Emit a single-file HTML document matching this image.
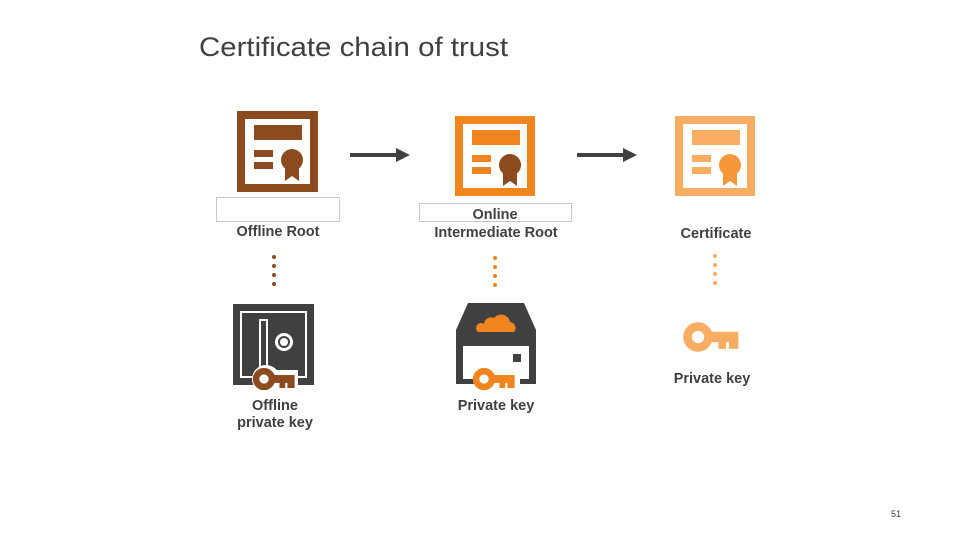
<!DOCTYPE html>
<html><head><meta charset="utf-8"><style>
body{margin:0;background:#fff;}
svg{display:block;}
text{font-family:"Liberation Sans",sans-serif;font-weight:bold;fill:#404040;}
</style></head><body>
<svg width="960" height="540" viewBox="0 0 960 540" xmlns="http://www.w3.org/2000/svg">
<defs>
<g id="certbody">
  <rect x="17" y="14" width="48" height="15"/>
  <rect x="17" y="39" width="19" height="7"/>
  <rect x="17" y="51" width="19" height="7"/>
</g>
<g id="seal">
  <circle cx="55" cy="49" r="11"/>
  <polygon points="48,55 62,55 62,70 55,65 48,70"/>
</g>
<g id="key">
  <circle cx="0" cy="0" r="11" fill="none" stroke-width="9"/>
  <rect x="10" y="-5" width="32" height="10"/>
  <rect x="22" y="0" width="7" height="12"/>
  <rect x="33" y="0" width="9" height="12"/>
</g>
</defs>

<text x="199" y="56" font-size="27" textLength="309" lengthAdjust="spacingAndGlyphs" style="font-weight:normal" fill="#484848">Certificate chain of trust</text>

<g transform="translate(237,111)">
  <rect x="4" y="4" width="73" height="73" fill="none" stroke="#8c4a1f" stroke-width="8"/>
  <use href="#certbody" fill="#8c4a1f"/>
  <use href="#seal" fill="#8c4a1f"/>
</g>
<g transform="translate(455,116)">
  <rect x="4" y="4" width="72" height="72" fill="none" stroke="#f0841f" stroke-width="8"/>
  <use href="#certbody" fill="#f0841f"/>
  <use href="#seal" fill="#8c4a1f"/>
</g>
<g transform="translate(675,116)">
  <rect x="4" y="4" width="72" height="72" fill="none" stroke="#f8ad62" stroke-width="8"/>
  <use href="#certbody" fill="#f8ad62"/>
  <use href="#seal" fill="#f7973a"/>
</g>

<line x1="350" y1="155" x2="398" y2="155" stroke="#404040" stroke-width="4"/>
<polygon points="396,148 410,155 396,162" fill="#404040"/>
<line x1="577" y1="155" x2="625" y2="155" stroke="#404040" stroke-width="4"/>
<polygon points="623,148 637,155 623,162" fill="#404040"/>

<rect x="216.5" y="197.5" width="123" height="24" fill="#fff" stroke="#c8c8c8"/>
<rect x="419.5" y="203.5" width="152" height="18" fill="#fff" stroke="#c8c8c8"/>
<rect x="470" y="204" width="52" height="17" fill="#fff"/>

<text x="278" y="236" font-size="14.5" text-anchor="middle">Offline Root</text>
<text x="495" y="219" font-size="14.5" text-anchor="middle">Online</text>
<text x="496" y="237" font-size="14.5" text-anchor="middle">Intermediate Root</text>
<text x="716" y="238" font-size="14.5" text-anchor="middle">Certificate</text>

<g fill="#8c4a1f"><circle cx="274" cy="257" r="2"/><circle cx="274" cy="266" r="2"/><circle cx="274" cy="275" r="2"/><circle cx="274" cy="284" r="2"/></g>
<g fill="#f0841f"><circle cx="495" cy="258" r="2"/><circle cx="495" cy="267" r="2"/><circle cx="495" cy="276" r="2"/><circle cx="495" cy="285" r="2"/></g>
<g fill="#f8ad62"><circle cx="715" cy="256" r="2"/><circle cx="715" cy="265" r="2"/><circle cx="715" cy="274" r="2"/><circle cx="715" cy="283" r="2"/></g>

<g>
  <rect x="233" y="304" width="81" height="81" fill="#404040"/>
  <rect x="241" y="312" width="65" height="65" fill="none" stroke="#fff" stroke-width="2"/>
  <rect x="246" y="317" width="55" height="55" fill="#404040"/>
  <rect x="260" y="320" width="7" height="52" fill="none" stroke="#fff" stroke-width="2"/>
  <circle cx="284" cy="342" r="9" fill="#fff"/>
  <circle cx="284" cy="342" r="6" fill="#404040"/>
  <circle cx="284" cy="342" r="4" fill="#fff"/>
  <circle cx="266" cy="379" r="14" fill="#fff"/>
  <rect x="270" y="370" width="28" height="18" fill="#fff"/>
  <g transform="translate(264,379) scale(0.72)" fill="#8c4a1f" stroke="#8c4a1f"><use href="#key"/></g>
</g>

<g>
  <polygon points="468,303 524,303 536,330 536,384 456,384 456,330" fill="#404040"/>
  <rect x="463" y="346" width="66" height="33" fill="#fff"/>
  <rect x="513" y="354" width="8" height="8" fill="#404040"/>
  <path d="M478,332 h36 a6,6 0 0 0 -4,-10 a9,9 0 0 0 -16,-4 a7,7 0 0 0 -10,6 a5,5 0 0 0 -6,8z" fill="#f0841f"/>
  <circle cx="486" cy="379" r="13" fill="#fff"/>
  <rect x="490" y="370" width="30" height="16" fill="#fff"/>
  <g transform="translate(484,379) scale(0.72)" fill="#f0841f" stroke="#f0841f"><use href="#key"/></g>
</g>

<g transform="translate(698,337) scale(0.95)" fill="#f8ad62" stroke="#f8ad62"><use href="#key"/></g>

<text x="275" y="410" font-size="14.5" text-anchor="middle">Offline</text>
<text x="275" y="427" font-size="14.5" text-anchor="middle">private key</text>
<text x="496" y="410" font-size="14.5" text-anchor="middle">Private key</text>
<text x="712" y="383" font-size="14.5" text-anchor="middle">Private key</text>

<text x="896" y="517" font-size="9" text-anchor="middle" style="font-weight:normal" fill="#888">51</text>
</svg>
</body></html>
